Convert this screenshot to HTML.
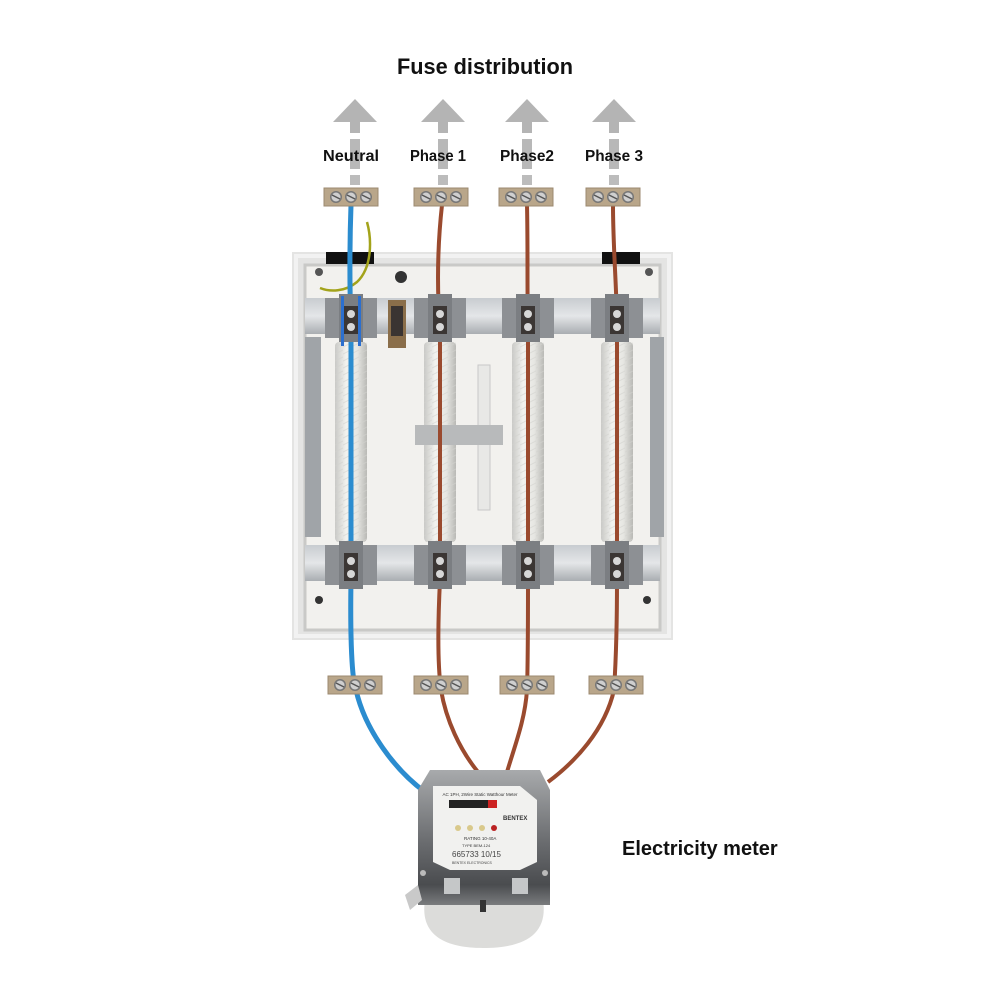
<!DOCTYPE html>
<html><head><meta charset="utf-8"><style>
html,body{margin:0;padding:0;background:#fff;width:1000px;height:1000px;overflow:hidden}
svg{display:block}
text{font-family:"Liberation Sans",sans-serif}
</style></head><body>
<svg width="1000" height="1000" viewBox="0 0 1000 1000" xmlns="http://www.w3.org/2000/svg">
<defs>
<linearGradient id="cyl" x1="0" x2="1" y1="0" y2="0">
<stop offset="0" stop-color="#c9c9c6"/><stop offset="0.35" stop-color="#f2f2ef"/><stop offset="0.7" stop-color="#e6e6e2"/><stop offset="1" stop-color="#b9b9b5"/></linearGradient>
<linearGradient id="rail" x1="0" x2="0" y1="0" y2="1">
<stop offset="0" stop-color="#c8ccd0"/><stop offset="0.5" stop-color="#e4e6e8"/><stop offset="1" stop-color="#a9adb1"/></linearGradient>
<linearGradient id="met" x1="0" x2="0" y1="0" y2="1">
<stop offset="0" stop-color="#a8aaac"/><stop offset="0.5" stop-color="#6e7073"/><stop offset="0.85" stop-color="#4a4c4f"/><stop offset="1" stop-color="#7a7c7e"/></linearGradient>
<pattern id="rib" width="8" height="7" patternUnits="userSpaceOnUse"><path d="M0 5 L8 1" stroke="#d2d2ce" stroke-width="1"/></pattern>
<g id="tb"><rect x="-27" y="-9" width="54" height="18" fill="#b9a68a"/><rect x="-27" y="-9" width="54" height="18" fill="none" stroke="#9c8a70"/>
<circle cx="-15" cy="0" r="6" fill="#777"/><circle cx="-15" cy="0" r="4.5" fill="#cfcfcf"/><line x1="-19" y1="-2" x2="-11" y2="2" stroke="#555" stroke-width="1.5"/>
<circle cx="0" cy="0" r="6" fill="#777"/><circle cx="0" cy="0" r="4.5" fill="#cfcfcf"/><line x1="-4" y1="-2" x2="4" y2="2" stroke="#555" stroke-width="1.5"/>
<circle cx="15" cy="0" r="6" fill="#777"/><circle cx="15" cy="0" r="4.5" fill="#cfcfcf"/><line x1="11" y1="-2" x2="19" y2="2" stroke="#555" stroke-width="1.5"/></g>
<g id="arr"><path d="M-22 23 L0 0 L22 23 Z" fill="#b4b4b4"/><rect x="-5" y="23" width="10" height="11" fill="#b4b4b4"/><rect x="-5" y="40" width="10" height="30" fill="#b8b8b8"/><rect x="-5" y="76" width="10" height="10" fill="#bcbcbc"/></g>
<g id="clamp"><rect x="-26" y="-22" width="16" height="40" fill="#8d9094"/><rect x="10" y="-22" width="16" height="40" fill="#8d9094"/><rect x="-12" y="-26" width="24" height="48" fill="#7b7e82"/><rect x="-7" y="-14" width="14" height="28" fill="#3b3634"/><circle cx="0" cy="-6" r="4" fill="#d7d7d7"/><circle cx="0" cy="7" r="4" fill="#d7d7d7"/></g>
<g id="fuse"><rect x="-16" y="0" width="32" height="200" rx="4" fill="url(#cyl)"/><rect x="-16" y="0" width="32" height="200" fill="url(#rib)" opacity="0.6"/></g>
</defs>
<text x="485" y="74" text-anchor="middle" font-size="22" font-weight="bold" fill="#111" textLength="176" lengthAdjust="spacingAndGlyphs">Fuse distribution</text>
<use href="#arr" x="355" y="99"/><use href="#arr" x="443" y="99"/><use href="#arr" x="527" y="99"/><use href="#arr" x="614" y="99"/>
<g font-size="16" font-weight="bold" fill="#111" text-anchor="middle">
<text x="351" y="161" textLength="56" lengthAdjust="spacingAndGlyphs">Neutral</text>
<text x="438" y="161" textLength="56" lengthAdjust="spacingAndGlyphs">Phase 1</text>
<text x="527" y="161" textLength="54" lengthAdjust="spacingAndGlyphs">Phase2</text>
<text x="614" y="161" textLength="58" lengthAdjust="spacingAndGlyphs">Phase 3</text></g>
<!-- box -->
<rect x="292" y="252" width="381" height="388" fill="#e4e4e3"/>
<rect x="296" y="256" width="373" height="380" fill="none" stroke="#f2f2f2" stroke-width="4"/>
<rect x="305" y="265" width="355" height="365" fill="#f2f1ee"/>
<rect x="305" y="265" width="355" height="365" fill="none" stroke="#c9c9c7" stroke-width="3"/>
<rect x="326" y="252" width="48" height="12" fill="#111"/><rect x="602" y="252" width="38" height="12" fill="#111"/>
<circle cx="319" cy="272" r="4" fill="#555"/><circle cx="649" cy="272" r="4" fill="#555"/><circle cx="401" cy="277" r="6" fill="#333"/>
<circle cx="319" cy="600" r="4" fill="#333"/><circle cx="647" cy="600" r="4" fill="#333"/>
<rect x="305" y="337" width="16" height="200" fill="#a0a4a8"/><rect x="650" y="337" width="14" height="200" fill="#a0a4a8"/>
<rect x="305" y="298" width="355" height="36" fill="url(#rail)"/>
<rect x="305" y="545" width="355" height="36" fill="url(#rail)"/>
<use href="#fuse" x="351" y="342"/><use href="#fuse" x="440" y="342"/><use href="#fuse" x="528" y="342"/><use href="#fuse" x="617" y="342"/>
<rect x="478" y="365" width="12" height="145" fill="#e8e8e6" stroke="#c8c8c8"/>
<rect x="415" y="425" width="88" height="20" fill="#b8babb"/>
<rect x="388" y="300" width="18" height="48" fill="#8a6e4a"/><rect x="391" y="306" width="12" height="30" fill="#3a3432"/>
<!-- wires -->
<path d="M367 222 C372 240 372 268 357 282 C345 292 330 292 320 288" stroke="#a3a31a" stroke-width="2.5" fill="none"/>
<path d="M351 205 C349 260 350 300 351 330 L351 580 C350 640 352 680 356 690 C365 730 395 770 425 792" stroke="#2b8ccf" stroke-width="5" fill="none"/>
<path d="M442 205 C437 250 437 290 440 330 L440 580 C438 620 437 660 441 690 C446 720 460 750 478 772" stroke="#9a4a2e" stroke-width="4" fill="none"/>
<path d="M527 205 C528 250 527 290 528 330 L528 580 C528 620 528 660 527 690 C525 720 515 745 507 772" stroke="#9a4a2e" stroke-width="4" fill="none"/>
<path d="M613 205 C613 250 617 290 617 330 L617 580 C617 620 616 660 614 690 C605 730 575 762 548 782" stroke="#9a4a2e" stroke-width="4" fill="none"/>
<use href="#clamp" x="351" y="320"/><use href="#clamp" x="440" y="320"/><use href="#clamp" x="528" y="320"/><use href="#clamp" x="617" y="320"/>
<use href="#clamp" x="351" y="567"/><use href="#clamp" x="440" y="567"/><use href="#clamp" x="528" y="567"/><use href="#clamp" x="617" y="567"/>
<rect x="341" y="296" width="3" height="50" fill="#2b6fcf"/><rect x="358" y="296" width="3" height="50" fill="#2b6fcf"/>
<use href="#tb" x="351" y="197"/><use href="#tb" x="441" y="197"/><use href="#tb" x="526" y="197"/><use href="#tb" x="613" y="197"/>
<use href="#tb" x="355" y="685"/><use href="#tb" x="441" y="685"/><use href="#tb" x="527" y="685"/><use href="#tb" x="616" y="685"/>
<!-- meter -->
<path d="M425 900 C420 932 440 948 483 948 C528 948 548 932 543 900 Z" fill="#dcdcda"/>
<path d="M430 770 L540 770 L550 790 L550 905 L418 905 L418 790 Z" fill="url(#met)"/>
<path d="M433 786 L520 786 L537 800 L537 862 L520 870 L450 870 L433 862 Z" fill="#f1f1ef"/>
<rect x="449" y="800" width="48" height="8" fill="#222"/><rect x="488" y="800" width="9" height="8" fill="#c22"/>
<circle cx="458" cy="828" r="3" fill="#d9c98b"/><circle cx="470" cy="828" r="3" fill="#d9c98b"/><circle cx="482" cy="828" r="3" fill="#d9c98b"/><circle cx="494" cy="828" r="3" fill="#b22"/>
<text x="480" y="796" font-size="4.5" text-anchor="middle" fill="#333">AC 1PH, 2Wire Static Watthour Meter</text>
<text x="503" y="820" font-size="6" font-weight="bold" fill="#333">BENTEX</text>
<text x="464" y="840" font-size="4.5" fill="#333">RATING 10-40A</text>
<text x="462" y="847" font-size="4" fill="#333">TYPE BEM-124</text>
<text x="452" y="857" font-size="8" fill="#444">665733  10/15</text>
<text x="452" y="864" font-size="3.5" fill="#444">BENTEX ELECTRONICS</text>
<rect x="444" y="878" width="16" height="16" fill="#c5c7c8"/><rect x="512" y="878" width="16" height="16" fill="#c5c7c8"/>
<circle cx="423" cy="873" r="3" fill="#bbb"/><circle cx="545" cy="873" r="3" fill="#bbb"/>
<path d="M405 895 L418 885 L422 900 L410 910 Z" fill="#c9c9c9"/>
<rect x="480" y="900" width="6" height="12" fill="#333"/>
<text x="622" y="855" font-size="20" font-weight="bold" fill="#111">Electricity meter</text>
</svg>
</body></html>
